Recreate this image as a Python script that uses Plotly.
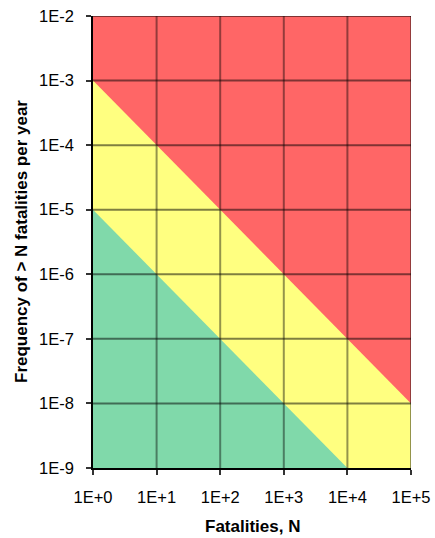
import plotly.graph_objects as go

# Data
x_ticks = [1, 10, 100, 1000, 10000, 100000]
x_labels = ["1E+0", "1E+1", "1E+2", "1E+3", "1E+4", "1E+5"]
y_ticks = [1e-9, 1e-8, 1e-7, 1e-6, 1e-5, 1e-4, 1e-3, 1e-2]
y_labels = ["1E-9", "1E-8", "1E-7", "1E-6", "1E-5", "1E-4", "1E-3", "1E-2"]

# Criterion lines (N, F)
upper_N = [1, 100000]
upper_F = [1e-3, 1e-8]
lower_N = [1, 10000]
lower_F = [1e-5, 1e-9]

x_min, x_max = x_ticks[0], x_ticks[-1]
y_min, y_max = y_ticks[0], y_ticks[-1]

RED = "#FF6666"
YELLOW = "#FFFF80"
GREEN = "#80D9AA"

fig = go.Figure()

# Red (intolerable) background
fig.add_trace(go.Scatter(
    x=[x_min, x_max, x_max, x_min, x_min],
    y=[y_min, y_min, y_max, y_max, y_min],
    fill="toself", fillcolor=RED, mode="lines", line=dict(width=0),
    hoverinfo="skip", showlegend=False))

# Yellow (ALARP) region below upper line
fig.add_trace(go.Scatter(
    x=[upper_N[0], upper_N[1], x_max, x_min, upper_N[0]],
    y=[upper_F[0], upper_F[1], y_min, y_min, upper_F[0]],
    fill="toself", fillcolor=YELLOW, mode="lines", line=dict(width=0),
    hoverinfo="skip", showlegend=False))

# Green (acceptable) region below lower line
fig.add_trace(go.Scatter(
    x=[lower_N[0], lower_N[1], x_min, lower_N[0]],
    y=[lower_F[0], lower_F[1], y_min, lower_F[0]],
    fill="toself", fillcolor=GREEN, mode="lines", line=dict(width=0),
    hoverinfo="skip", showlegend=False))

# Gridlines drawn above fills
for xv in x_ticks[1:]:
    fig.add_trace(go.Scatter(x=[xv, xv], y=[y_min, y_max], mode="lines",
                             line=dict(color="rgba(0,0,0,0.42)", width=2),
                             hoverinfo="skip", showlegend=False))
for yv in y_ticks[1:]:
    fig.add_trace(go.Scatter(x=[x_min, x_max], y=[yv, yv], mode="lines",
                             line=dict(color="rgba(0,0,0,0.5)", width=2),
                             hoverinfo="skip", showlegend=False))

font_family = "Liberation Sans, Arial, sans-serif"

fig.update_layout(
    width=435, height=538,
    margin=dict(l=93, r=24, t=16, b=70),
    paper_bgcolor="white", plot_bgcolor="white",
    font=dict(family=font_family, size=16, color="black"),
    xaxis=dict(
        type="log", range=[0, 5], automargin=False,
        tickvals=x_ticks, ticktext=x_labels,
        showgrid=False, zeroline=False,
        showline=True, linecolor="black", linewidth=1.5,
        ticks="outside", ticklen=5, tickcolor="#333", tickwidth=1.5,
        tickfont=dict(size=16.5, family=font_family),
        ticklabelstandoff=8,
    ),
    yaxis=dict(
        type="log", range=[-9, -2], automargin=False,
        tickvals=y_ticks, ticktext=y_labels,
        showgrid=False, zeroline=False,
        showline=True, linecolor="black", linewidth=1.5,
        ticks="outside", ticklen=5, tickcolor="#333", tickwidth=1.5,
        tickfont=dict(size=16.5, family=font_family),
        ticklabelstandoff=9,
    ),
    annotations=[
        dict(text="<b>Fatalities, N</b>", xref="paper", yref="paper",
             x=0.5, y=0, xanchor="center", yanchor="middle", yshift=-58,
             showarrow=False, font=dict(size=17, family=font_family)),
        dict(text="<b>Frequency of > N fatalities per year</b>", xref="paper", yref="paper",
             x=0, y=0.5, xanchor="center", yanchor="middle", xshift=-72, textangle=-90,
             showarrow=False, font=dict(size=17, family=font_family)),
    ],
)

fig.write_html(
    "out.html",
    config={"displayModeBar": False},
    post_script="document.body.style.margin='0';document.body.style.padding='0';document.body.style.overflow='hidden';",
)
